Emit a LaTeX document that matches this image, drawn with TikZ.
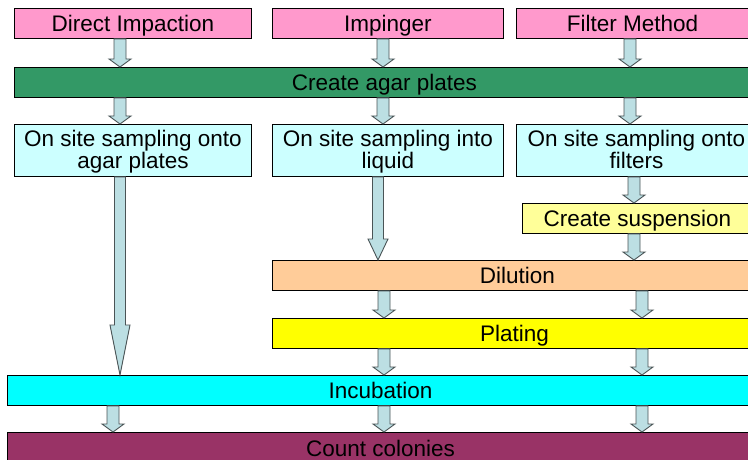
\documentclass[tikz,border=0pt]{standalone}
\usepackage{fontspec}
\setmainfont{Liberation Sans}
\usetikzlibrary{calc}
\definecolor{pinkbox}{HTML}{FF99CC}
\definecolor{greenbox}{HTML}{339966}
\definecolor{lcyan}{HTML}{CCFFFF}
\definecolor{lyellow}{HTML}{FFFF99}
\definecolor{peach}{HTML}{FFCC99}
\definecolor{yel}{HTML}{FFFF00}
\definecolor{cyanbox}{HTML}{00FFFF}
\definecolor{maroon}{HTML}{993366}
\definecolor{arrfill}{HTML}{BCDFE3}
\definecolor{arrline}{HTML}{4A5456}
\tikzset{
  box/.style={draw=black, line width=0.9pt, inner sep=0pt, anchor=north west, align=center,
    text height=16pt, text depth=0pt, font=\fontsize{22.5}{22}\selectfont},
  twoline/.style={text height=37pt, text depth=0pt},
  blockarr/.style={draw=arrline, fill=arrfill, line width=0.9pt, line join=miter},
}
% block arrow: #1 start, #2 end, #3 head length
\newcommand\blockarrow[3]{%
  \draw[blockarr] let \p1=(#1), \p2=(#2) in
    (\x1-6pt,\y1) -- (\x1-6pt,\y2+#3) -- (\x1-11pt,\y2+#3) -- (\x1,\y2)
    -- (\x1+11pt,\y2+#3) -- (\x1+6pt,\y2+#3) -- (\x1+6pt,\y1) -- cycle;}
\newcommand\longarrow[3]{%
  \draw[blockarr] let \p1=(#1), \p2=(#2) in
    (\x1-5.5pt,\y1) -- (\x1-5.5pt,\y2+#3) -- (\x1-10pt,\y2+#3) -- (\x1,\y2)
    -- (\x1+10pt,\y2+#3) -- (\x1+5.5pt,\y2+#3) -- (\x1+5.5pt,\y1) -- cycle;}
\begin{document}
\begin{tikzpicture}[x=1pt,y=-1pt]
\useasboundingbox (0,0) rectangle (748,460);
% nodes
\node[box, fill=pinkbox, minimum width=237pt, minimum height=30pt] (di) at (14,8) {Direct Impaction};
\node[box, fill=pinkbox, minimum width=231pt, minimum height=30pt] (imp) at (272,8) {Impinger};
\node[box, fill=pinkbox, minimum width=232pt, minimum height=30pt] (fm) at (516,8) {Filter Method};
\node[box, fill=greenbox, minimum width=740pt, minimum height=30pt] (cap) at (14,67) {Create agar plates};
\node[box, twoline, fill=lcyan, minimum width=237pt, minimum height=52pt] (s1) at (14,124) {On site sampling onto\\agar plates};
\node[box, twoline, fill=lcyan, minimum width=231pt, minimum height=52pt] (s2) at (272,124) {On site sampling into\\liquid};
\node[box, twoline, fill=lcyan, minimum width=240pt, minimum height=52pt] (s3) at (516,124) {On site sampling onto\\filters};
\node[box, fill=lyellow, minimum width=230pt, minimum height=30pt] (susp) at (522,203) {Create suspension};
\node[box, fill=peach, minimum width=490pt, minimum height=30pt] (dil) at (272,260) {Dilution};
\node[box, fill=yel, minimum width=484pt, minimum height=30pt] (plat) at (272,318) {Plating};
\node[box, fill=cyanbox, minimum width=746pt, minimum height=30pt] (inc) at (7,375) {Incubation};
\node[box, fill=maroon, minimum width=746pt, minimum height=32pt] (cc) at (7,432) {Count colonies};
% arrow columns
\coordinate (xa) at (120,0);
\coordinate (xb) at (383,0);
\coordinate (xc) at (630,0);
\coordinate (xd) at (378,0);
\coordinate (xe) at (634,0);
\coordinate (xf) at (384,0);
\coordinate (xg) at (642,0);
\coordinate (xh) at (113,0);
% arrows
\blockarrow{di.south -| xa}{cap.north -| xa}{8pt}
\blockarrow{imp.south -| xb}{cap.north -| xb}{8pt}
\blockarrow{fm.south -| xc}{cap.north -| xc}{8pt}
\blockarrow{cap.south -| xa}{s1.north -| xa}{8pt}
\blockarrow{cap.south -| xb}{s2.north -| xb}{8pt}
\blockarrow{cap.south -| xc}{s3.north -| xc}{8pt}
\longarrow{s1.south -| xa}{inc.north -| xa}{50pt}
\longarrow{s2.south -| xd}{dil.north -| xd}{21pt}
\blockarrow{s3.south -| xe}{susp.north -| xe}{8pt}
\blockarrow{susp.south -| xe}{dil.north -| xe}{8pt}
\blockarrow{dil.south -| xf}{plat.north -| xf}{8pt}
\blockarrow{dil.south -| xg}{plat.north -| xg}{8pt}
\blockarrow{plat.south -| xf}{inc.north -| xf}{8pt}
\blockarrow{plat.south -| xg}{inc.north -| xg}{8pt}
\blockarrow{inc.south -| xh}{cc.north -| xh}{8pt}
\blockarrow{inc.south -| xf}{cc.north -| xf}{8pt}
\blockarrow{inc.south -| xg}{cc.north -| xg}{8pt}
\end{tikzpicture}
\end{document}
